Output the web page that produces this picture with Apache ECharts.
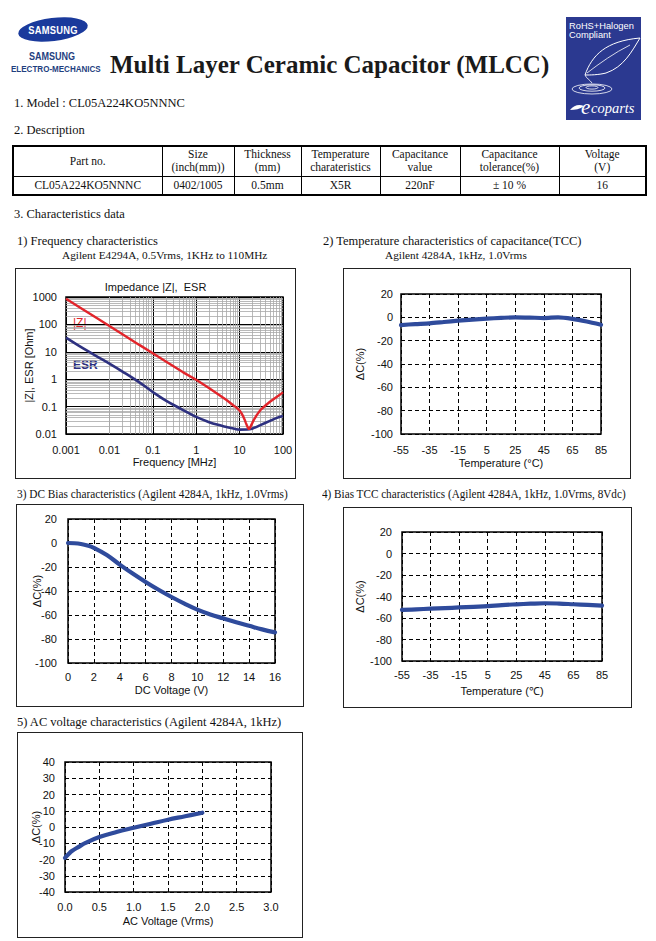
<!DOCTYPE html>
<html><head><meta charset="utf-8">
<script src="https://cdn.jsdelivr.net/npm/echarts@6/dist/echarts.min.js"></script>
<style>
html,body{margin:0;padding:0;background:#fff;}
body{width:656px;height:941px;position:relative;overflow:hidden;font-family:"Liberation Serif","Times New Roman",serif;color:#111;}
.t{position:absolute;white-space:nowrap;line-height:1;}
.box{position:absolute;border:1.5px solid #222;box-sizing:border-box;pointer-events:none;}
.ch{position:absolute;}
#tb{position:absolute;left:12px;top:145px;width:633px;border-collapse:collapse;table-layout:fixed;border:2px solid #000;font-size:11.5px;text-align:center;line-height:1.15;}
#tb td{border:1px solid #000;padding:0;}
#tb tr.r1 td{border-bottom:1.5px solid #000;}
.nar{font-family:"Liberation Sans",Arial,sans-serif;font-weight:bold;color:#1f3f7f;transform-origin:50% 0;}
</style></head>
<body>
<!-- Samsung logo -->
<div style="position:absolute;left:18px;top:18px;width:70px;height:23px;border-radius:50%;background:#1a3a9c;transform:rotate(-7deg);"></div>
<div class="t" style="left:18px;top:24px;width:70px;text-align:center;font:bold 11px 'Liberation Sans',sans-serif;color:#fff;letter-spacing:0.3px;transform:scaleX(0.85);transform-origin:50% 0;">SAMSUNG</div>
<div class="t nar" style="left:2px;top:51px;width:100px;text-align:center;font-size:11px;transform:scaleX(0.82);">SAMSUNG</div>
<div class="t nar" style="left:2px;top:63.5px;width:100px;text-align:center;font-size:9.8px;transform:scaleX(0.82);">ELECTRO-MECHANICS</div>
<div class="t" style="left:110px;top:52px;font-weight:bold;font-size:25px;color:#1a1a1a;">Multi Layer Ceramic Capacitor (MLCC)</div>
<!-- eco logo -->
<svg style="position:absolute;left:566px;top:17px;" width="75" height="103" viewBox="0 0 75 103">
<rect x="0" y="0" width="75" height="103" fill="#2b3990"/>
<text x="3" y="11.5" fill="#fff" font-family="Liberation Sans, Arial, sans-serif" font-size="9.3">RoHS+Halogen</text>
<text x="3" y="20.5" fill="#fff" font-family="Liberation Sans, Arial, sans-serif" font-size="9.3">Compliant</text>
<path d="M19 58 C 26 38, 40 24, 74 21 C 66 34, 58 50, 40 56 C 32 58, 24 58, 19 58 Z" fill="none" stroke="#fff" stroke-width="1"/>
<path d="M21 56 C 34 46, 48 36, 64 28" fill="none" stroke="#fff" stroke-width="0.8"/>
<path d="M19 58 C 20 61, 24 63, 26 66" fill="none" stroke="#fff" stroke-width="0.8"/>
<ellipse cx="26" cy="72" rx="20" ry="5" fill="none" stroke="#fff" stroke-width="0.8"/>
<ellipse cx="26" cy="71" rx="13" ry="3.2" fill="none" stroke="#fff" stroke-width="0.8"/>
<ellipse cx="26" cy="70.5" rx="6" ry="1.6" fill="none" stroke="#fff" stroke-width="0.8"/>
<path d="M4 93 C 8 88, 13 87, 18 89 C 14 92, 9 93, 4 93 Z" fill="#fff"/>
<text x="15" y="97" fill="#fff" font-family="Liberation Serif, serif" font-style="italic" font-size="21">e</text>
<text x="25" y="96" fill="#fff" font-family="Liberation Serif, serif" font-style="italic" font-size="14.5">coparts</text>
</svg>

<div class="t" style="left:14px;top:97px;font-size:12.5px;">1. Model : CL05A224KO5NNNC</div>
<div class="t" style="left:14px;top:124px;font-size:12.5px;">2. Description</div>
<table id="tb">
<colgroup><col style="width:149px"><col style="width:72px"><col style="width:67px"><col style="width:79px"><col style="width:80px"><col style="width:99px"><col style="width:87px"></colgroup>
<tr class="r1" style="height:30px"><td>Part no.</td><td>Size<br>(inch(mm))</td><td>Thickness<br>(mm)</td><td>Temperature<br>charateristics</td><td>Capacitance<br>value</td><td>Capacitance<br>tolerance(%)</td><td>Voltage<br>(V)</td></tr>
<tr style="height:19px"><td>CL05A224KO5NNNC</td><td>0402/1005</td><td>0.5mm</td><td>X5R</td><td>220nF</td><td>± 10 %</td><td>16</td></tr>
</table>
<div class="t" style="left:14px;top:208px;font-size:12.5px;">3. Characteristics data</div>

<div class="t" style="left:17px;top:235px;font-size:12.5px;">1) Frequency characteristics</div>
<div class="t" style="left:62px;top:250px;font-size:11.3px;">Agilent E4294A, 0.5Vrms, 1KHz to 110MHz</div>
<div class="t" style="left:323px;top:235px;font-size:12.5px;">2) Temperature characteristics of capacitance(TCC)</div>
<div class="t" style="left:385px;top:250px;font-size:11.3px;">Agilent 4284A, 1kHz, 1.0Vrms</div>
<div class="t" style="left:17px;top:488px;font-size:12.5px;transform:scaleX(0.905);transform-origin:0 0;">3) DC Bias characteristics (Agilent 4284A, 1kHz, 1.0Vrms)</div>
<div class="t" style="left:322px;top:488px;font-size:12.5px;transform:scaleX(0.895);transform-origin:0 0;">4) Bias TCC characteristics (Agilent 4284A, 1kHz, 1.0Vrms, 8Vdc)</div>
<div class="t" style="left:17px;top:716px;font-size:12.5px;">5) AC voltage characteristics (Agilent 4284A, 1kHz)</div>

<div id="c1" class="ch" style="left:15px;top:268px;width:281px;height:211px;"></div>
<div class="box" style="left:15px;top:268px;width:281px;height:211px;"></div>
<div id="c2" class="ch" style="left:343px;top:268px;width:288px;height:211px;"></div>
<div class="box" style="left:343px;top:268px;width:288px;height:211px;"></div>
<div id="c3" class="ch" style="left:16px;top:504px;width:288px;height:203px;"></div>
<div class="box" style="left:16px;top:504px;width:288px;height:203px;"></div>
<div id="c4" class="ch" style="left:343px;top:507px;width:289px;height:201px;"></div>
<div class="box" style="left:343px;top:507px;width:289px;height:201px;"></div>
<div id="c5" class="ch" style="left:17px;top:732px;width:286px;height:206px;"></div>
<div class="box" style="left:17px;top:732px;width:286px;height:206px;"></div>

<script>
// ---------- Data ----------
// 1) Frequency characteristics (MHz, Ohm)
const zFreq = [0.001, 0.002, 0.005, 0.01, 0.02, 0.05, 0.1, 0.2, 0.5, 1, 2, 5, 7, 8, 9, 10, 11, 12, 13, 14, 15, 16, 16.5, 17, 18, 20, 22, 25, 30, 40, 50, 70, 100];
const zVals  = [870, 435, 174, 88, 44, 17.5, 8.8, 4.4, 1.78, 0.95, 0.47, 0.175, 0.115, 0.098, 0.085, 0.072, 0.058, 0.045, 0.034, 0.025, 0.019, 0.0158, 0.0152, 0.0158, 0.019, 0.027, 0.036, 0.05, 0.074, 0.112, 0.15, 0.22, 0.33];
const esrFreq = [0.001, 0.002, 0.005, 0.01, 0.02, 0.05, 0.1, 0.2, 0.5, 1, 2, 3, 5, 8, 10, 15, 20, 30, 50, 70, 100];
const esrVals = [33, 16.5, 7, 3.7, 1.9, 0.75, 0.34, 0.165, 0.075, 0.042, 0.027, 0.022, 0.018, 0.0152, 0.0145, 0.0146, 0.016, 0.021, 0.03, 0.038, 0.045];
const freqTicks = ['0.001', '0.01', '0.1', '1', '10', '100'];
const ohmTicks = ['0.01', '0.1', '1', '10', '100', '1000'];

// 2) TCC (deg C, %)
const tccTemps = ['-55', '-45', '-35', '-25', '-15', '-5', '5', '15', '25', '35', '45', '55', '65', '75', '85'];
const tccVals  = [-6.6, -5.8, -5.1, -4.0, -2.9, -2.0, -1.1, -0.5, 0, -0.2, -0.6, 0, -1.3, -3.6, -6.4];

// 3) DC bias (V, %)
const dcVolts = [0, 0.5, 1, 1.5, 2, 3, 4, 5, 6, 7, 8, 9, 10, 11, 12, 13, 14, 15, 16];
const dcVals  = [0, -0.2, -0.8, -2, -4, -10, -18, -25.5, -32.5, -39, -45, -50.5, -55.5, -59.5, -62.8, -66, -69, -72, -74.5];

// 4) Bias TCC, 8Vdc (deg C, %)
const btccTemps = ['-55', '-45', '-35', '-25', '-15', '-5', '5', '15', '25', '35', '45', '55', '65', '75', '85'];
const btccVals  = [-52.5, -52, -51.3, -50.8, -50.2, -49.6, -49, -48, -47.3, -46.7, -46.3, -46.6, -47.2, -47.8, -48.5];

// 5) AC voltage (Vrms, %)
const acVolts = [0, 0.05, 0.1, 0.2, 0.3, 0.5, 0.75, 1.0, 1.25, 1.5, 1.75, 2.0];
const acVals  = [-19, -16.8, -14.8, -12.2, -9.8, -6.2, -3.1, -0.5, 2, 4.5, 6.6, 8.8];

// ---------- Styles ----------
const FONT = 'Liberation Sans, Arial, sans-serif';
const BLUE = '#2f4b9c';
const lab = {fontFamily: FONT, fontSize: 11, color: '#111'};
const dashed = {show: true, lineStyle: {color: '#000', width: 1, type: [4, 3]}};
const gridBase = {show: true, borderColor: '#000', borderWidth: 1.5, backgroundColor: 'transparent', containLabel: false, outerBoundsMode: 'none'};

function nameStyle() { return {fontFamily: FONT, fontSize: 11, color: '#111'}; }

// ---------- Chart 1 ----------
const minorX = [], minorY = [];
[0.001, 0.01, 0.1, 1, 10].forEach(d => { for (let m = 2; m <= 9; m++) minorX.push(+(m * d).toPrecision(3)); });
[0.01, 0.1, 1, 10, 100].forEach(d => { for (let m = 2; m <= 9; m++) minorY.push(+(m * d).toPrecision(3)); });
function fmtLog(v) { return String(+Number(v).toPrecision(1)); }

const c1 = echarts.init(document.getElementById('c1'), null, {renderer: 'svg'});
c1.setOption({
  animation: false,
  title: {text: 'Impedance |Z|,  ESR', left: 'center', top: 8, textStyle: {fontFamily: FONT, fontSize: 11, fontWeight: 'normal', color: '#111'}},
  grid: Object.assign({left: 51, top: 29, width: 217, height: 137}, gridBase),
  xAxis: {type: 'log', logBase: 10, min: 0.001, max: 100, splitNumber: 5,
    axisLine: {show: false}, axisTick: {show: false},
    splitLine: {show: true, lineStyle: {color: '#000', width: 1}},
    axisLabel: Object.assign({margin: 10, formatter: fmtLog}, lab),
    name: 'Frequency [MHz]', nameLocation: 'middle', nameGap: 22, nameMoveOverlap: false, nameTextStyle: nameStyle()},
  yAxis: {type: 'log', logBase: 10, min: 0.01, max: 1000, splitNumber: 5,
    axisLine: {show: false}, axisTick: {show: false},
    splitLine: {show: true, lineStyle: {color: '#000', width: 1}},
    axisLabel: Object.assign({margin: 9, formatter: fmtLog}, lab),
    name: '|Z|, ESR [Ohm]', nameLocation: 'middle', nameGap: 32, nameMoveOverlap: false, nameTextStyle: nameStyle()},
  graphic: [
    {type: 'text', left: 58, top: 49, style: {text: '|Z|', fill: '#e2252b', font: '12px ' + FONT}},
    {type: 'text', left: 58, top: 91, style: {text: 'ESR', fill: '#2e3180', font: 'bold 12px ' + FONT}}
  ],
  series: [
    {type: 'line', name: 'ESR', data: esrFreq.map((f, i) => [f, esrVals[i]]), smooth: 0.4, showSymbol: false, symbol: 'none',
      lineStyle: {color: '#2e3180', width: 2.6}, z: 3,
      markLine: {silent: true, symbol: 'none', z: 1, animation: false, label: {show: false},
        lineStyle: {color: '#a8a8a8', width: 0.8, type: 'solid'},
        data: minorX.map(v => ({xAxis: v})).concat(minorY.map(v => ({yAxis: v})))}},
    {type: 'line', name: '|Z|', data: zFreq.map((f, i) => [f, zVals[i]]), smooth: false, showSymbol: false, symbol: 'none',
      lineStyle: {color: '#e2252b', width: 2.4}, z: 4}
  ]
});

// ---------- Generic charts ----------
function linChart(id, cfg) {
  const ch = echarts.init(document.getElementById(id), null, {renderer: 'svg'});
  ch.setOption({
    animation: false,
    grid: Object.assign({}, cfg.grid, gridBase),
    xAxis: cfg.xAxis,
    yAxis: Object.assign({type: 'value', axisLine: {show: false}, axisTick: {show: false}, splitLine: dashed,
      axisLabel: Object.assign({margin: cfg.yMargin || 10}, lab),
      name: 'ΔC(%)', nameLocation: 'middle', nameGap: cfg.yNameGap, nameMoveOverlap: false, nameTextStyle: nameStyle()}, cfg.yAxis),
    series: [{type: 'line', data: cfg.data, smooth: cfg.smooth, showSymbol: false, symbol: 'none',
      lineStyle: {color: BLUE, width: 4.2, cap: 'round', join: 'round'}}]
  });
}

function catX(cats, name, gap, margin) {
  return {type: 'category', data: cats, boundaryGap: false,
    axisLine: {show: false}, axisTick: {show: false},
    splitLine: Object.assign({interval: 1}, dashed),
    axisLabel: Object.assign({margin: margin, interval: 1}, lab),
    name: name, nameLocation: 'middle', nameGap: gap, nameMoveOverlap: false, nameTextStyle: nameStyle()};
}
function valX(min, max, interval, name, gap, margin, fmt) {
  return {type: 'value', min: min, max: max, interval: interval,
    axisLine: {show: false}, axisTick: {show: false}, splitLine: dashed,
    axisLabel: Object.assign({margin: margin, formatter: fmt}, lab),
    name: name, nameLocation: 'middle', nameGap: gap, nameMoveOverlap: false, nameTextStyle: nameStyle()};
}

linChart('c2', {grid: {left: 58, top: 26, width: 200, height: 140},
  xAxis: catX(tccTemps, 'Temperature (°C)', 23, 10),
  yAxis: {min: -100, max: 20, interval: 20}, yNameGap: 36, yMargin: 8,
  data: tccVals, smooth: 0.25});

linChart('c3', {grid: {left: 52, top: 15, width: 207, height: 144},
  xAxis: valX(0, 16, 2, 'DC Voltage (V)', 21, 8),
  yAxis: {min: -100, max: 20, interval: 20}, yNameGap: 26, yMargin: 11,
  data: dcVolts.map((v, i) => [v, dcVals[i]]), smooth: 0.4});

linChart('c4', {grid: {left: 59, top: 25, width: 200, height: 129},
  xAxis: catX(btccTemps, 'Temperature (℃)', 24, 8),
  yAxis: {min: -100, max: 20, interval: 20}, yNameGap: 37, yMargin: 10,
  data: btccVals, smooth: 0.4});

linChart('c5', {grid: {left: 48, top: 30, width: 206, height: 130},
  xAxis: valX(0, 3, 0.5, 'AC Voltage (Vrms)', 23, 9, v => v.toFixed(1)),
  yAxis: {min: -40, max: 40, interval: 10}, yNameGap: 24, yMargin: 10,
  data: acVolts.map((v, i) => [v, acVals[i]]), smooth: 0.4});
</script>
</body></html>
